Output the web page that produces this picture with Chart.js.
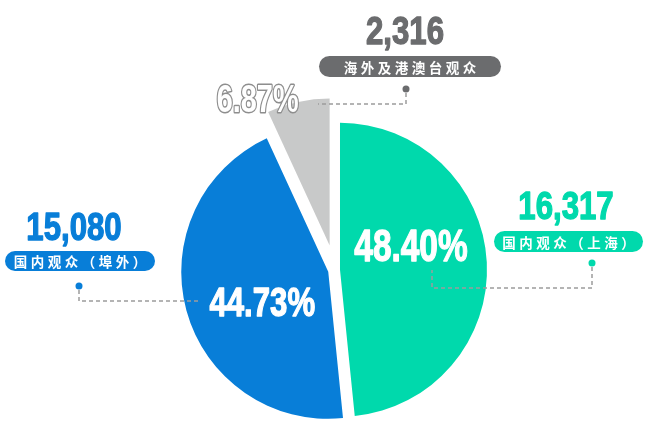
<!DOCTYPE html>
<html><head><meta charset="utf-8">
<script src="https://cdn.jsdelivr.net/npm/chart.js@4/dist/chart.umd.min.js"></script>
<style>html,body{margin:0;padding:0;background:#fff}#wrap{width:646px;height:431px;position:relative}</style>
</head><body><div id="wrap"><canvas id="c"></canvas></div>
<script>
// ---- data ----
const categories = ['国内观众（上海）', '国内观众（埠外）', '海外及港澳台观众'];
const visitors = [16317, 15080, 2316];

// ---- style ----
const sliceColors = ['#00D9AC', '#087ED8', '#C8C9C9'];
const labelColors = ['#00D9AC', '#087ED8', '#6B6C6E'];
const explode = [5, 7, 25];
const pctFont = [44, 41, 38];
const pctOffset = [[71, -9], [-66, 44], [-72, -134]];
const callouts = [
  {num: [566, 219], pill: [494, 231, 149, 21], dot: [592, 263], path: [[592, 267], [592, 288], [432, 288], [432, 270]]},
  {num: [74, 240], pill: [5, 251, 150, 20], dot: [79, 286], path: [[79, 290], [79, 301], [200, 301]]},
  {num: [405, 44], pill: [319, 56, 182, 21], dot: [406, 89], path: [[406, 93], [406, 104], [318, 104]]}
];
const NUM_FONT = '"Liberation Sans",Arial,sans-serif';
const CJK_FONT = '"Noto Sans CJK SC","Noto Sans",sans-serif';

const total = visitors.reduce((a, b) => a + b, 0);
const pctLabels = visitors.map(v => (v / total * 100).toFixed(2) + '%');
const fmt = v => v.toLocaleString('en-US');

const explodePlugin = {
  id: 'explode',
  afterDatasetUpdate(chart, args) {
    const meta = chart.getDatasetMeta(args.index);
    meta.data.forEach((arc, i) => {
      const mid = (arc.startAngle + arc.endAngle) / 2;
      arc.x += Math.cos(mid) * explode[i];
      arc.y += Math.sin(mid) * explode[i];
    });
  }
};

function roundRect(ctx, x, y, w, h, r) {
  ctx.beginPath();
  ctx.moveTo(x + r, y);
  ctx.arcTo(x + w, y, x + w, y + h, r);
  ctx.arcTo(x + w, y + h, x, y + h, r);
  ctx.arcTo(x, y + h, x, y, r);
  ctx.arcTo(x, y, x + w, y, r);
  ctx.closePath();
}

function narrowText(ctx, text, x, y, size, sx, fill, stroke) {
  ctx.save();
  ctx.translate(x, y);
  ctx.scale(sx, 1);
  ctx.font = 'bold ' + size + 'px ' + NUM_FONT;
  ctx.textAlign = 'center';
  ctx.textBaseline = 'alphabetic';
  ctx.lineJoin = 'round';
  if (stroke) {
    ctx.lineWidth = 3;
    ctx.strokeStyle = stroke;
    ctx.strokeText(text, 0, 0);
  } else {
    ctx.lineWidth = 1.3;
    ctx.strokeStyle = fill;
    ctx.strokeText(text, 0, 0);
  }
  ctx.fillStyle = fill;
  ctx.fillText(text, 0, 0);
  ctx.restore();
}

const labelPlugin = {
  id: 'labels',
  afterDatasetsDraw(chart) {
    const ctx = chart.ctx;
    const meta = chart.getDatasetMeta(0);
    ctx.save();
    callouts.forEach((c, i) => {
      ctx.setLineDash([4, 3]);
      ctx.strokeStyle = '#9C9C9C';
      ctx.lineWidth = 1.5;
      ctx.beginPath();
      c.path.forEach((p, k) => k ? ctx.lineTo(p[0], p[1]) : ctx.moveTo(p[0], p[1]));
      ctx.stroke();
      ctx.setLineDash([]);
      ctx.fillStyle = labelColors[i];
      ctx.beginPath();
      ctx.arc(c.dot[0], c.dot[1], 3.5, 0, Math.PI * 2);
      ctx.fill();
      narrowText(ctx, fmt(visitors[i]), c.num[0], c.num[1], 38, 0.82, labelColors[i]);
      const [px, py, pw, ph] = c.pill;
      ctx.fillStyle = labelColors[i];
      roundRect(ctx, px, py, pw, ph, ph / 2);
      ctx.fill();
      ctx.fillStyle = '#FFFFFF';
      ctx.font = 'bold 13.5px ' + CJK_FONT;
      ctx.textAlign = 'center';
      ctx.textBaseline = 'middle';
      const chars = Array.from(categories[i]);
      const pitch = 17;
      const start = px + pw / 2 - (chars.length - 1) * pitch / 2;
      chars.forEach((ch, k) => ctx.fillText(ch, start + k * pitch, py + ph / 2 + 1));
    });
    meta.data.forEach((arc, i) => {
      narrowText(ctx, pctLabels[i], arc.x + pctOffset[i][0], arc.y + pctOffset[i][1],
        pctFont[i], 0.76, '#FFFFFF', i === 2 ? '#8E8E8E' : null);
    });
    ctx.restore();
  }
};

new Chart(document.getElementById('c'), {
  type: 'pie',
  data: {
    labels: categories,
    datasets: [{
      data: visitors,
      backgroundColor: sliceColors,
      borderWidth: 0,
      hoverOffset: 0
    }]
  },
  options: {
    responsive: true,
    maintainAspectRatio: false,
    animation: false,
    radius: 147,
    layout: {padding: {left: 24, right: 0, top: 109, bottom: 0}},
    plugins: {legend: {display: false}, tooltip: {enabled: false}},
    events: []
  },
  plugins: [explodePlugin, labelPlugin]
});
</script>
</body></html>
